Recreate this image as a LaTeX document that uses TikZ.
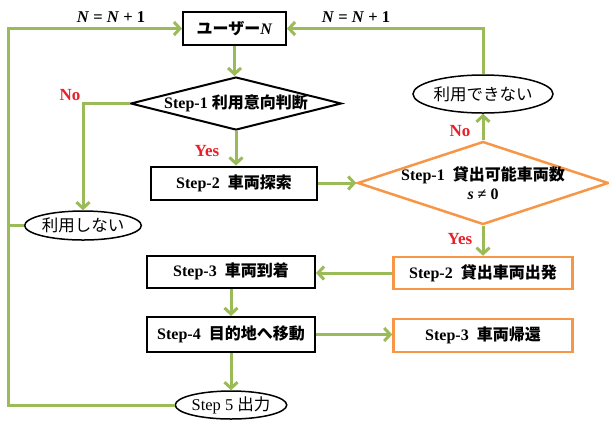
\documentclass[tikz,border=0pt]{standalone}
\usepackage{fontspec}
\setmainfont{Liberation Serif}
\newfontfamily\jp{Noto Sans CJK JP}
\usetikzlibrary{shapes.geometric,arrows.meta}
\definecolor{grn}{HTML}{9BBB59}
\definecolor{org}{HTML}{F79646}
\definecolor{redlbl}{HTML}{E8202A}
\newcommand{\nvar}{\textbf{\textit{N}}}
\begin{document}
\begin{tikzpicture}[x=1pt,y=-1pt,
  txt/.style={font=\fontsize{16}{18}\selectfont\bfseries, inner sep=0pt},
  blk/.style={draw=black, line width=2pt, inner sep=0pt, font=\fontsize{16}{18}\selectfont\bfseries},
  orgbox/.style={draw=org, line width=2.5pt, inner sep=0pt, font=\fontsize{16}{18}\selectfont\bfseries},
  ell/.style={ellipse, draw=black, line width=1.5pt, inner sep=0pt, font=\fontsize{16.5}{18}\selectfont},
  conn/.style={draw=grn, line width=3pt, -{Straight Barb[length=6pt,width=13pt]}},
  plain/.style={draw=grn, line width=3pt},
  lbl/.style={text=redlbl, font=\fontsize{17}{19}\selectfont\bfseries, inner sep=0pt},
  eq/.style={font=\fontsize{16.5}{18}\selectfont\bfseries, inner sep=0pt}]
\useasboundingbox (0,0) rectangle (609,421);
% nodes
\node[blk, minimum width=103pt, minimum height=33pt] (user) at (234.5,28.5) {{\jp ユーザー}\nvar};
\node[diamond, draw=black, line width=2pt, minimum width=211pt, minimum height=53pt, inner sep=0pt] (d1) at (236,103.5) {};
\node[txt] (d1t) at (d1.center) {Step-1 {\jp 利用意向判断}};
\node[ell, minimum width=110pt, minimum height=29pt] (nouse1) at (83,225.5) {{\jp 利用しない}};
\node[blk, minimum width=166pt, minimum height=33pt] (step2) at (234,183) {Step-2\ \ {\jp 車両探索}};
\node[diamond, draw=org, line width=2.5pt, minimum width=251pt, minimum height=83pt, inner sep=0pt] (d2) at (483,183) {};
\node[txt, align=center] (d2t) at (d2.center) {Step-1\ \ {\jp 貸出可能車両数}\\[1pt] \textit{s} ≠ 0};
\node[ell, minimum width=135pt, minimum height=38pt] (nouse2) at (483,94) {{\jp 利用できない}};
\node[orgbox, minimum width=179pt, minimum height=32pt] (o2) at (483,273) {Step-2\ \ {\jp 貸出車両出発}};
\node[blk, minimum width=168pt, minimum height=32pt] (step3) at (231,271.5) {Step-3\ \ {\jp 車両到着}};
\node[blk, minimum width=168pt, minimum height=35pt] (step4) at (231,334.5) {Step-4\ \ {\jp 目的地へ移動}};
\node[orgbox, minimum width=179pt, minimum height=33pt] (o3) at (483,335.5) {Step-3\ \ {\jp 車両帰還}};
\node[ell, minimum width=108pt, minimum height=28pt] (step5) at (231,405) {Step 5 {\jp 出力}};
\coordinate (lx) at (8,0);
% labels
\node[eq] (eqL) at (111,17) {\nvar\ = \nvar\ + 1};
\node[eq] (eqR) at (356,17) {\nvar\ = \nvar\ + 1};
\node[lbl] (no1) at (70,95) {No};
\node[lbl] (yes1) at (207,151) {Yes};
\node[lbl] (no2) at (460,131) {No};
\node[lbl] (yes2) at (460,239) {Yes};
% connectors
\draw[conn] (step5.west) -| (lx |- user.west) -- (user.west);
\draw[plain] (nouse1.west) -- (lx |- nouse1.west);
\draw[conn] (nouse2.north) |- (user.east);
\draw[conn] (user.south) -- (user.south |- d1.north);
\draw[conn] (d1.west) -| (nouse1.north);
\draw[conn] (d1.south) -- (d1.south |- step2.north);
\draw[conn] (step2.east) -- (d2.west);
\draw[conn] (d2.north) -- (nouse2.south);
\draw[conn] (d2.south) -- (o2.north);
\draw[conn] (o2.west) -- (o2.west -| step3.east);
\draw[conn] (step3.south) -- (step4.north);
\draw[conn] (step4.east) -- (step4.east -| o3.west);
\draw[conn] (step4.south) -- (step5.north);
\end{tikzpicture}
\end{document}
